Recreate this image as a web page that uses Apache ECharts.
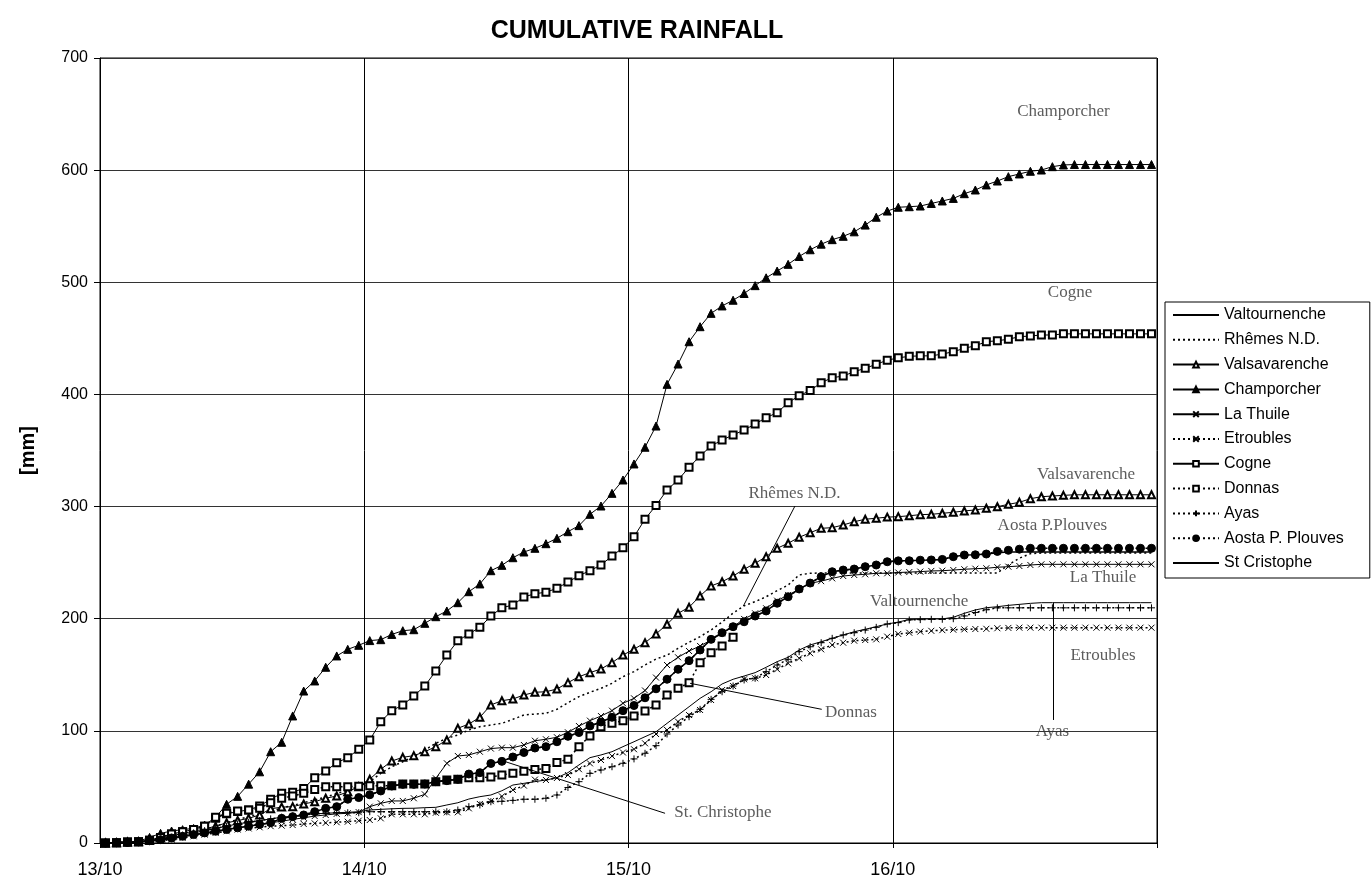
<!DOCTYPE html>
<html>
<head>
<meta charset="utf-8">
<script src="https://cdn.jsdelivr.net/npm/echarts@6/dist/echarts.min.js"></script>
<style>
html,body{margin:0;padding:0;background:#fff;}
#chart{width:1372px;height:893px;}
</style>
</head>
<body>
<div id="chart"></div>
<script>
// hourly readings, 13/10 00:00 -> 17/10 00:00 (value at the middle of each hour)
const HOUR_COUNT = 96;
const dayLabels = ['13/10', '14/10', '15/10', '16/10', ''];

const valtournenche = [0,0.3,0.6,1,2,3.5,5,7,9,11,13,15,17,18.5,20,21.5,23,24,25,26,26.5,27,27.4,27.9,29.4,30,30.5,30.9,31,31.5,31.8,33.9,35.9,39.2,41.3,42.8,46.6,51.7,53.2,54.7,56.2,58.2,62.7,69.6,76.1,78.5,81.4,85.9,90.3,94.8,99.2,106.7,114.1,121.5,129,134.9,141.8,146,148.9,151.9,156.7,161.7,165.6,172.1,176.6,179.5,182.5,185.5,188.4,190.6,192.9,195.3,197,199.3,199.8,199.8,199.8,201.3,204.8,207.8,209.8,210.7,211.9,212.8,213.7,214.3,214.3,214.3,214.3,214.3,214.3,214.3,214.3,214.3,214.3,214.3];
const rhemes = [0,0.3,0.6,1,2,3.5,5.5,7.5,9.5,12,15,18,21,23.5,26,28.5,31,33.5,36,38.5,41,44,47,50.5,54.7,62.1,68,72.5,77,82.9,88.9,93.4,96.3,100.8,103.7,105.2,106.7,110.3,114.1,115,115.6,119.2,125.1,130.5,134.4,137.9,142.4,148.3,152.8,158.7,164,167.5,173.6,179,184,190,197,205,211.5,215.2,219.6,225,230,239,240.5,240.8,240.8,240.8,240.8,240.8,240.8,240.8,240.8,240.8,240.8,240.8,240.8,240.8,240.8,240.8,240.8,240.8,248,254,258,258.5,258.5,258.5,258.5,258.5,258.5,258.5,258.5,258.5,258.5,258.5];
const valsavarenche = [0,0.3,0.8,1.2,2.5,4.5,6.5,8.5,10.5,12.5,15,18,20,22,25,30.5,32,32.4,34.8,36.8,39.9,41.9,45.7,50.2,56.9,65.7,73.1,76.4,77.9,81.4,85.9,91.8,102.3,106.1,112.1,123.1,126.9,128.4,132,134.4,134.9,137.3,143,148.3,151.9,155.2,160.8,167.6,172.8,178.6,186.4,195,204.8,210.2,220.3,229.2,233,238.1,244.1,249.4,255.3,262.8,267.3,272.6,276.7,280.6,281.2,283.6,286.5,288.7,289.6,290.6,291,291.8,292.8,293.1,294,294.9,296.1,297,298.5,299.9,302,303.8,307,308.8,309.4,310,310.5,310.5,310.5,310.5,310.5,310.5,310.5,310.5];
const champorcher = [0.3,0.6,1.2,1.5,5,8.6,10.7,11.9,13,16,22.9,34.5,41.6,52.5,63.5,81.4,89.8,113.3,135.5,144.5,156.7,166.8,172.7,176.3,180.5,181.3,186,189.3,190.2,195.9,201.8,206.9,214.3,224.1,231,242.8,247.6,254.4,259.5,262.8,266.9,271.7,277.6,283,293.1,300.5,311.8,323.7,338,352.9,371.8,409,427.1,447,460.4,472.3,478.9,484,490,497,504,510,516,523,529,534,538,541,545,551,558,563.5,566.9,567.4,568,570.3,572.5,574.8,579,582.3,586.8,590.3,594.2,596.6,599,600.1,603.1,604.6,605,605,605,605,605,605,605,605];
const laThuile = [0,0.2,0.5,0.8,1.5,2.5,4,5.5,7,8.5,10,12,13.5,15,16.5,18,19.5,21,22.5,24,25,26,26.5,27.5,32.4,35.4,37.5,37.5,39.9,43.4,57.7,71.1,77.6,78.5,81.4,84.2,85,85,87.4,91.2,92.5,94.3,98.7,104.3,109.1,113.2,118,124.6,129,136,147.5,158.7,165.6,171.2,175.7,181,187,192.9,199.8,204.8,209.3,216.1,221.2,226.2,231.6,233.5,236,238.1,239,239.6,240.5,240.5,241.2,241.6,242,242.6,242.8,243.4,244.1,244.6,245,245.9,246.4,247,247.9,248.5,248.5,248.5,248.5,248.5,248.5,248.5,248.5,248.5,248.5,248.5];
const etroubles = [0,0.2,0.4,0.6,1,2,3,4.5,6,7.5,9,10.5,12,13,14,15,15.5,16,17,17.5,18,18.5,19,19.9,20.5,22,25.6,25.6,25.6,25.6,27,27.3,27.4,30.9,34.8,37.3,41.6,47.3,51.2,56.5,56.2,58,60.6,65.8,71,74,77.5,80.7,83.6,88.9,97.2,100.8,108.2,114.1,118.6,127.5,136.4,140,146,146.9,149.8,154.9,160.2,164.7,169.2,172.7,176.6,178.6,180.4,181,181.6,184,186.4,187.5,188.5,189.2,189.8,190.2,190.5,190.8,191,191.5,191.8,192,192,192,192,192,192,192,192,192,192,192,192,192];
const cogne = [0,0.3,0.8,1.2,2.5,5,8,10,12,15,22,26,28,29.5,33,39,44.3,45.2,48.7,58.2,64.2,71.6,76.1,83.6,91.8,108.2,118,123.1,131.1,140,153.4,167.6,180.4,186.4,192.3,202.4,209.8,212.2,219.4,222.3,223.6,227.1,232.7,238.4,242.8,247.9,255.9,263.3,273.1,288.8,301,314.8,323.7,335,345.1,354,359.4,363.8,368.3,373.6,379.3,383.7,392.6,398.9,403.4,410.5,414.9,416.4,420.3,423.3,426.9,430.5,432.6,434,434.4,434.4,436,438.1,441.1,443.4,447,447.9,449.2,451.5,452.1,453,453,454,454,454,454,454,454,454,454,454];
const donnas = [0,0.3,0.8,1.2,2.5,5,8,10,12,15,22.9,26.5,28.5,29.4,31,36,40,41.9,44.3,47.8,50.2,50.2,50.2,50.7,51.1,51.1,51.1,52.6,52.6,52.6,54.7,56.2,56.8,58.2,58.2,58.9,60.6,62.1,64,65.5,66.4,71.8,74.7,85.9,95.5,103.7,106.7,109.1,113.2,117.8,123.1,132,137.9,143,160.8,169.7,175.7,183.4];
const ayas = [0,0.3,0.6,1,2,3.5,5,7,9,11,13,15,17,18.5,20,21.5,23,24,25,26,26.5,27,27,27,27.9,27.9,27.9,27.9,27.9,27.9,27.9,27.9,29.4,32.4,33.9,36.8,37.2,38,39,39,39.9,42.8,49.5,54.7,62.1,65.1,68,71.1,75,80,86.8,97.2,105.2,112.6,119.2,128.1,134.9,140,145.4,146.9,152.8,158.7,163.8,170.6,175,178.6,182.5,185.5,187.5,189.9,192.3,195.3,196.5,198.9,199.2,199.5,199.5,200,202.5,205.5,208,209.7,209.7,209.7,209.7,209.7,209.7,209.7,209.7,209.7,209.7,209.7,209.7,209.7,209.7,209.7];
const aosta = [0,0.2,0.5,1,2,3,4.5,6,7.5,9,10.5,12,13.5,15,16.5,18.1,22,23.5,25,27.9,30.9,32.4,39,40.5,43,46.4,50.8,52.3,52.3,52.6,54.7,55.6,56.8,61.5,62.7,70.9,72.8,76.7,80.7,84.7,85.9,90.3,95.1,98.5,104.4,107.9,112.1,118,122.6,129.5,137.5,146,154.9,162.6,172.1,181.6,187.5,192.9,197.3,202.4,206.9,213.8,219.6,226.5,231.8,237.5,241.9,243.4,244.3,246.4,247.9,250.8,251.6,251.7,252.2,252.4,252.9,255.3,256.8,257,257.7,260,261,262,262.8,262.8,262.8,262.8,262.8,262.8,262.8,262.8,262.8,262.8,262.8,262.8];
const stCristophe = [0,0.2,0.5,1,2,3,4.5,6,7.5,9,10.5,12,13.5,15,16.5,18.1,22,23.5,25,27.9,30.9,32.4,39,40.5,43,46.4,50.8,52.3,52.3,52.6,54.7,55.6,56.8,61.5,62.7,70.9,72.8,76.7,80.7,84.7,85.9,90.3,95.1,98.5,104.4,107.9,112.1,118,122.6,129.5,137.5,146,154.9,162.6,172.1,181.6,187.5,192.9,197.3,202.4,206.9,213.8,219.6,226.5,231.8,237.5,241.9,243.4,244.3,246.4,247.9,250.8,251.6,251.7,252.2,252.4,252.9,255.3,256.8,257,257.7,258.9,259.5,259.5,259.5,259.5,259.5,259.5,259.5,259.5,259.5,259.5,259.5,259.5,259.5,259.5];

// station name labels and leader lines, in data units [hour, mm]
const stationLabels = [
  ['Champorcher', 87.5, 652], ['Cogne', 88.1, 490.7], ['Valsavarenche', 89.55, 329],
  ['Aosta P.Plouves', 86.5, 283], ['La Thuile', 91.1, 236.9], ['Valtournenche', 74.4, 214.9],
  ['Etroubles', 91.1, 167.6], ['Ayas', 86.5, 99], ['Rhêmes N.D.', 63.08, 311.8],
  ['Donnas', 68.2, 116.2], ['St. Christophe', 56.58, 27.4]
];
const leaders = [
  [[63.12, 300.5], [58.43, 211.3]],
  [[65.55, 119.2], [53.59, 142.4]],
  [[51.32, 26.5], [36.63, 73.1]],
  [[86.58, 214.3], [86.58, 109.7]]
];

const hours = Array.from({length: HOUR_COUNT}, (_, i) => i + 0.5);
const pairs = arr => arr.map((v, i) => [hours[i], v]);

const X = 'path://M0,0L10,10M10,0L0,10';
const PLUS = 'path://M5,0L5,10M0,5L10,5';

function mk(name, values, opt) {
  const s = {
    name, type: 'line', data: pairs(values), symbol: 'none', symbolSize: 7,
    lineStyle: {color: '#000', width: 1, type: 'solid'},
    itemStyle: {color: '#000', borderColor: '#000', borderWidth: 1},
    emphasis: {disabled: true}, z: 3
  };
  if (opt.symbol) s.symbol = opt.symbol;
  if (opt.size) s.symbolSize = opt.size;
  if (opt.dash) s.lineStyle.type = opt.dash;
  if (opt.width) s.lineStyle.width = opt.width;
  return s;
}

const series = [
  mk('Valtournenche', valtournenche, {}),
  mk('Rhêmes N.D.', rhemes, {dash: [2, 3], width: 1.5}),
  mk('Valsavarenche', valsavarenche, {symbol: 'emptyTriangle', size: 7}),
  mk('Champorcher', champorcher, {symbol: 'triangle', size: 8}),
  mk('La Thuile', laThuile, {symbol: X, size: 6}),
  mk('Etroubles', etroubles, {symbol: X, size: 6, dash: [2, 3], width: 1.5}),
  mk('Cogne', cogne, {symbol: 'emptyRect', size: 7}),
  mk('Donnas', donnas, {symbol: 'emptyRect', size: 7, dash: [2, 3], width: 1.5}),
  mk('Ayas', ayas, {symbol: PLUS, size: 7, dash: [2, 3], width: 1.5}),
  mk('Aosta P. Plouves', aosta, {symbol: 'circle', size: 8, dash: [2, 3], width: 1.5}),
  mk('St Cristophe', stCristophe, {width: 1.5})
];

series.push({
  name: 'labels', type: 'scatter', symbolSize: 0, silent: true, z: 5,
  data: stationLabels.map(l => ({value: [l[1], l[2]], name: l[0]})),
  label: {show: true, position: 'inside', formatter: p => p.name,
    fontFamily: 'Liberation Serif', fontSize: 17, color: '#333'},
  markLine: {
    silent: true, symbol: ['none', 'none'], animation: false,
    lineStyle: {color: '#000', width: 1, type: 'solid'}, label: {show: false},
    data: leaders.map(l => [{coord: l[0]}, {coord: l[1]}])
  }
});

const legendItems = series.slice(0, 11).map(s =>
  s.symbol === 'none' ? {name: s.name, itemStyle: {opacity: 0}} : {name: s.name});

const chart = echarts.init(document.getElementById('chart'), null, {renderer: 'canvas'});
chart.setOption({
  animation: false,
  backgroundColor: '#fff',
  graphic: [{
    type: 'text', x: 637, y: 31,
    style: {text: 'CUMULATIVE RAINFALL', font: 'bold 25px "Liberation Sans", Arial', fill: '#000',
      align: 'center', verticalAlign: 'middle'}
  }],
  grid: {left: 100, right: 215, top: 58, bottom: 50, show: true, borderColor: '#000', borderWidth: 1},
  legend: {
    data: legendItems,
    orient: 'vertical', left: 1165, top: 302,
    itemWidth: 46, itemHeight: 7, itemGap: 8.8,
    padding: [5, 26, 7, 7], borderColor: '#000', borderWidth: 1,
    textStyle: {fontFamily: '"Liberation Sans", Arial', fontSize: 16, color: '#000', lineHeight: 14},
    selectedMode: false
  },
  xAxis: {
    type: 'value', min: 0, max: 96, interval: 24,
    axisLine: {lineStyle: {color: '#000'}},
    axisTick: {show: true, length: 5, lineStyle: {color: '#000'}},
    axisLabel: {formatter: v => dayLabels[Math.round(v / 24)], fontFamily: '"Liberation Sans", Arial', fontSize: 18, color: '#000', margin: 18},
    splitLine: {show: true, lineStyle: {color: '#000', width: 1}}
  },
  yAxis: {
    type: 'value', min: 0, max: 700, interval: 100,
    name: '[mm]', nameLocation: 'middle', nameGap: 62, nameRotate: 90,
    nameTextStyle: {fontFamily: '"Liberation Sans", Arial', fontWeight: 'bold', fontSize: 20, color: '#000'},
    axisLine: {show: true, lineStyle: {color: '#000'}},
    axisTick: {show: true, length: 6, lineStyle: {color: '#000'}},
    axisLabel: {fontFamily: '"Liberation Sans", Arial', fontSize: 16, color: '#000', margin: 12},
    splitLine: {show: true, lineStyle: {color: '#333', width: 1}}
  },
  series
});
</script>
</body>
</html>
